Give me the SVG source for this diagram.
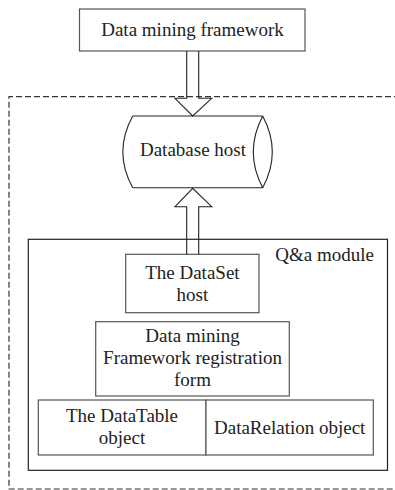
<svg xmlns="http://www.w3.org/2000/svg" width="395" height="490" viewBox="0 0 395 490">
  <style>
    .box { fill: #fff; stroke: #555; stroke-width: 1.2; }
    .frame { fill: none; stroke: #222; stroke-width: 1.2; }
    .dash { fill: none; stroke: #333; stroke-width: 1.2; stroke-dasharray: 6 3; }
    .arrow { fill: none; stroke: #222; stroke-width: 1.1; stroke-linejoin: miter; }
    .cyl { fill: none; stroke: #222; stroke-width: 1.1; }
    text { font-family: "Liberation Serif", "Times New Roman", serif; font-size: 19px; fill: #222; text-anchor: middle; }
  </style>

  <rect width="395" height="490" fill="#fff"/>

  <!-- dashed system boundary (right side runs off the page) -->
  <path class="dash" d="M400 96.7 H9 V489 H400"/>

  <g id="framework">
    <rect class="box" x="79.5" y="9" width="225.5" height="42"/>
    <text x="192.5" y="36">Data mining framework</text>
  </g>

  <g id="database-host">
    <path class="cyl" d="M132.7 116 H262.7 M132.7 187.7 H262.7 M132.7 116 Q113 152 132.7 187.7 M262.7 116 Q243.9 152 262.7 187.7 M262.7 116 Q281.9 152 262.7 187.7"/>
    <text x="193" y="156">Database host</text>
  </g>

  <g id="qa-module">
    <rect class="frame" x="28.3" y="239.3" width="359.2" height="231"/>
    <text x="374" y="261" style="text-anchor:end">Q&amp;a module</text>
  </g>

  <g id="dataset-host">
    <rect class="box" x="125.7" y="254.3" width="133.3" height="58.4"/>
    <text x="192.4" y="278.5">The DataSet</text>
    <text x="192.4" y="300.5">host</text>
  </g>

  <g id="registration-form">
    <rect class="box" x="95.7" y="321.7" width="193.6" height="74.3"/>
    <text x="192.5" y="342">Data mining</text>
    <text x="192.5" y="364">Framework registration</text>
    <text x="192.5" y="386">form</text>
  </g>

  <g id="datatable-object">
    <rect class="box" x="38.3" y="400" width="167.7" height="55"/>
    <text x="122" y="422">The DataTable</text>
    <text x="122" y="444">object</text>
  </g>

  <g id="datarelation-object">
    <rect class="box" x="206" y="400" width="167.3" height="55"/>
    <text x="289.7" y="433.5">DataRelation object</text>
  </g>

  <g id="connectors">
    <!-- hollow block arrow: framework down to database host -->
    <path class="arrow" d="M186.7 51 V98.3 H175 L192.7 116 L211.7 98.3 H198.7 V51"/>
    <!-- hollow block arrow: DataSet host up to database host -->
    <path class="arrow" d="M186.7 254.3 V206.7 H175 L192.7 188.3 L211.7 206.7 H198.7 V254.3"/>
  </g>
</svg>
